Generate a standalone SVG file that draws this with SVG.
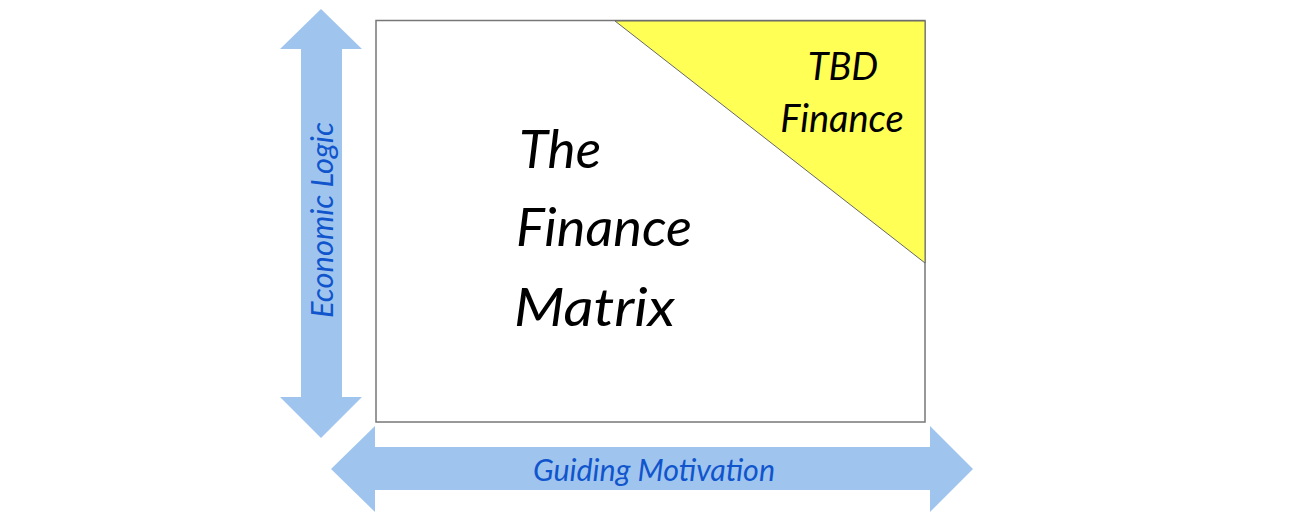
<svg xmlns="http://www.w3.org/2000/svg" width="1289" height="524" viewBox="0 0 1289 524">
<style>
.arrow{fill:#9fc5ef;stroke:none}
.axis{font-family:"Lato","Open Sans","DejaVu Sans",sans-serif;font-style:italic;fill:#1155cc;font-size:31px}
.hand{font-family:"Lato","Open Sans","DejaVu Sans",sans-serif;font-style:italic;fill:#000}
</style>
<rect width="1289" height="524" fill="#fff"/>
<g id="connectors">
<polygon id="vertical-arrow" class="arrow" points="321,9 362,49 342,49 342,397 362,397 321,438 280,397 301,397 301,49 280,49"/>
<polygon id="horizontal-arrow" class="arrow" points="331,469 375,426 375,447 930,447 930,426 973,469 930,512 930,490 375,490 375,512"/>
</g>
<g id="matrix">
<rect x="376" y="20.5" width="549" height="401.5" fill="#fff" stroke="#777" stroke-width="1.5"/>
</g>
<g id="tbd">
<polygon points="615,21 925,21 925,263" fill="#ffff55" stroke="#666" stroke-width="1"/>
<text class="hand" font-size="38" text-anchor="middle"><tspan x="843" y="80">TBD</tspan><tspan x="842" y="132">Finance</tspan></text>
</g>
<g id="title">
<text class="hand" font-size="52"><tspan x="519" y="168" textLength="82" lengthAdjust="spacingAndGlyphs">The</tspan><tspan x="516" y="246" textLength="176" lengthAdjust="spacingAndGlyphs">Finance</tspan><tspan x="514" y="326" textLength="161" lengthAdjust="spacingAndGlyphs">Matrix</tspan></text>
</g>
<g id="label-economic">
<text class="axis" transform="translate(333,220) rotate(-90)" text-anchor="middle" textLength="196" lengthAdjust="spacingAndGlyphs">Economic Logic</text>
</g>
<g id="label-guiding">
<text class="axis" x="654" y="481" text-anchor="middle" textLength="242" lengthAdjust="spacingAndGlyphs">Guiding Motivation</text>
</g>
</svg>
